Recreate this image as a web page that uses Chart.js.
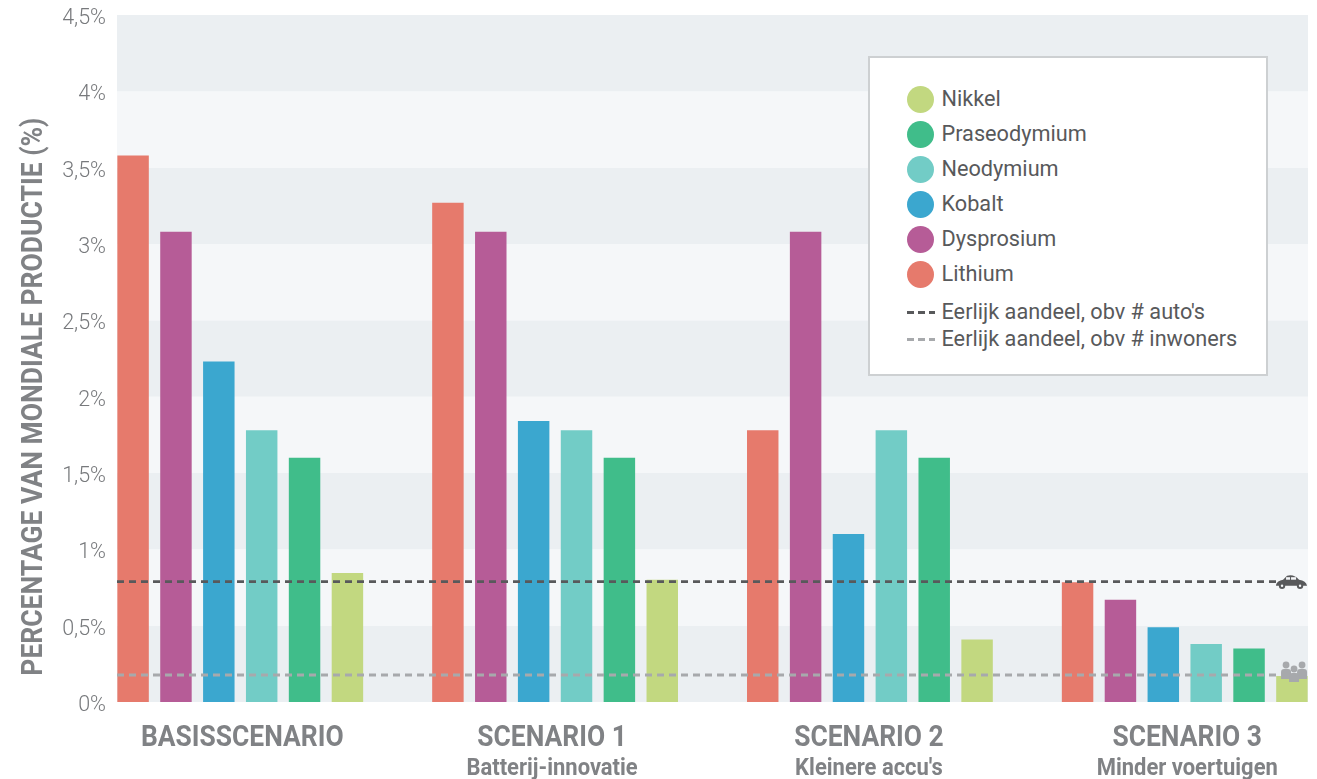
<!DOCTYPE html>
<html>
<head>
<meta charset="utf-8">
<title>Aandeel mondiale productie</title>
<script src="https://cdn.jsdelivr.net/npm/chart.js@4"></script>
<style>
  html, body { margin: 0; background: #fff; }
  #wrap { position: relative; width: 1317px; height: 779px; }
  #legend {
    position: absolute; left: 868px; top: 56px; width: 396px; height: 316px;
    background: #fff; border: 2px solid #cdd0d2;
    font: 21.7px Roboto, sans-serif; color: #58595b;
  }
  #legend .row { position: absolute; left: 71.5px; white-space: nowrap; line-height: 24px; }
  #legend .dot { position: absolute; left: -35px; top: -1.5px; width: 27px; height: 27px; border-radius: 50%; }
  #legend .dash { position: absolute; left: -35px; top: 11px; width: 28px; height: 2.5px; }
</style>
</head>
<body>
<div id="wrap">
  <canvas id="chart" width="1317" height="779"></canvas>
  <div id="legend"></div>
</div>
<script>
const scenarios = ['BASISSCENARIO', 'SCENARIO 1', 'SCENARIO 2', 'SCENARIO 3'];
const subtitles = ['', 'Batterij-innovatie', "Kleinere accu's", 'Minder voertuigen'];
const yTicks = [0, 0.5, 1, 1.5, 2, 2.5, 3, 3.5, 4, 4.5];
const yTitle = 'PERCENTAGE VAN MONDIALE PRODUCTIE (%)';

const lithium = [3.58, 3.27, 1.78, 0.785];
const dysprosium = [3.08, 3.08, 3.08, 0.67];
const kobalt = [2.23, 1.84, 1.1, 0.49];
const neodymium = [1.78, 1.78, 1.78, 0.38];
const praseodymium = [1.6, 1.6, 1.6, 0.35];
const nikkel = [0.845, 0.8, 0.41, 0.17];

const fairShareCars = 0.788;
const fairShareInhabitants = 0.177;

const GREY = '#808285';
const xMin = -0.3915, xMax = 3.3915, lineEnd = 3.29;

const toPoints = arr => arr.map((v, i) => ({ x: i, y: v }));
const bar = (label, values, color) => ({
  type: 'bar', label, data: toPoints(values), backgroundColor: color,
  categoryPercentage: 0.817, barPercentage: 0.734, order: 2
});
const line = (label, y, color) => ({
  type: 'line', label, data: [{ x: xMin, y }, { x: lineEnd, y }],
  borderColor: color, borderWidth: 2.8, borderDash: [7, 5], pointRadius: 0, order: 1
});

const barSets = [
  bar('Lithium', lithium, '#e67a6c'),
  bar('Dysprosium', dysprosium, '#b65c97'),
  bar('Kobalt', kobalt, '#3ba7cf'),
  bar('Neodymium', neodymium, '#72ccc6'),
  bar('Praseodymium', praseodymium, '#40bd8a'),
  bar('Nikkel', nikkel, '#c2d880')
];
const lineSets = [
  line("Eerlijk aandeel, obv # auto's", fairShareCars, '#58595b'),
  line('Eerlijk aandeel, obv # inwoners', fairShareInhabitants, '#a7a9ac')
];

// alternating horizontal bands behind the bars
const bandsPlugin = {
  id: 'bands',
  beforeDatasetsDraw(c) {
    const { ctx, chartArea: a, scales: { y } } = c;
    for (let i = 0; i < yTicks.length - 1; i++) {
      const top = y.getPixelForValue(yTicks[i + 1]);
      const bottom = y.getPixelForValue(yTicks[i]);
      ctx.fillStyle = i % 2 ? '#f5f7f9' : '#ebeff2';
      ctx.fillRect(a.left, top, a.right - a.left, bottom - top);
    }
  }
};

function drawCar(ctx, x, y) {
  ctx.fillStyle = '#58595b';
  ctx.beginPath();
  ctx.moveTo(x, y + 3);
  ctx.quadraticCurveTo(x + 1, y - 1, x + 7, y - 2);
  ctx.lineTo(x + 11, y - 6);
  ctx.quadraticCurveTo(x + 18, y - 8, x + 23, y - 2);
  ctx.quadraticCurveTo(x + 30, y - 1, x + 31, y + 4);
  ctx.lineTo(x, y + 4);
  ctx.closePath();
  ctx.fill();
  ctx.fillStyle = '#f5f7f9';
  ctx.fillRect(x + 10, y - 4.5, 4, 2.5);
  ctx.fillRect(x + 15, y - 4.5, 5, 2.5);
  [6, 24].forEach(dx => {
    ctx.fillStyle = '#58595b';
    ctx.beginPath(); ctx.arc(x + dx, y + 4, 3.2, 0, Math.PI * 2); ctx.fill();
    ctx.fillStyle = '#f5f7f9';
    ctx.beginPath(); ctx.arc(x + dx, y + 4, 1.2, 0, Math.PI * 2); ctx.fill();
  });
}

function drawPerson(ctx, x, y, h) {
  ctx.beginPath(); ctx.arc(x, y, 3.4, 0, Math.PI * 2); ctx.fill();
  ctx.beginPath();
  ctx.moveTo(x - 5, y + h);
  ctx.lineTo(x - 5, y + 7);
  ctx.quadraticCurveTo(x - 5, y + 4, x - 2, y + 4);
  ctx.lineTo(x + 2, y + 4);
  ctx.quadraticCurveTo(x + 5, y + 4, x + 5, y + 7);
  ctx.lineTo(x + 5, y + h);
  ctx.closePath();
  ctx.fill();
}

// car and people markers at the end of the fair-share lines
const iconsPlugin = {
  id: 'icons',
  afterDatasetsDraw(c) {
    const { ctx, scales: { x, y } } = c;
    const ex = x.getPixelForValue(lineEnd);
    ctx.save();
    drawCar(ctx, ex, y.getPixelForValue(fairShareCars));
    ctx.fillStyle = '#a7a9ac';
    const py = y.getPixelForValue(fairShareInhabitants);
    drawPerson(ctx, ex + 10, py - 10, 14);
    drawPerson(ctx, ex + 26, py - 10, 14);
    drawPerson(ctx, ex + 18, py - 6, 13);
    ctx.restore();
  }
};

// Roboto has no condensed cut here, so the bold axis texts are squeezed horizontally
function narrowText(ctx, text, x, y, size, squeeze, angle) {
  ctx.save();
  ctx.translate(x, y);
  if (angle) ctx.rotate(angle);
  ctx.scale(squeeze, 1);
  ctx.font = `bold ${size}px Roboto, sans-serif`;
  ctx.fillStyle = GREY;
  ctx.textAlign = 'center';
  ctx.textBaseline = 'middle';
  ctx.fillText(text, 0, 0);
  ctx.restore();
}

// small shifts of the scenario captions away from the group centres
const labelNudge = [2, -3, -1, 2.5];

const axisTextPlugin = {
  id: 'axisText',
  afterDraw(c) {
    const { ctx, scales: { x, y } } = c;
    scenarios.forEach((s, i) => {
      const px = x.getPixelForValue(i) + labelNudge[i];
      narrowText(ctx, s, px, 739, 29.5, 0.895);
      if (subtitles[i]) narrowText(ctx, subtitles[i], px, 769, 23, 0.955);
    });
    narrowText(ctx, yTitle, 35, y.getPixelForValue(2), 29, 0.914, -Math.PI / 2);
  }
};

const chart = new Chart(document.getElementById('chart'), {
  data: { datasets: [...lineSets, ...barSets] },
  options: {
    responsive: false,
    animation: false,
    layout: { padding: { top: 15, right: 9, left: 0, bottom: 0 } },
    plugins: { legend: { display: false }, tooltip: { enabled: false } },
    scales: {
      x: {
        type: 'linear', min: xMin, max: xMax, position: 'bottom', offset: false,
        grid: { display: false }, border: { display: false },
        ticks: { display: false },
        // one tick per scenario keeps the bar groups at full width
        afterBuildTicks: s => { s.ticks = scenarios.map((_, i) => ({ value: i })); },
        afterFit: s => { s.height = 77; s.paddingLeft = 0; s.paddingRight = 0; }
      },
      y: {
        min: 0, max: 4.5,
        grid: { display: false }, border: { display: false },
        afterBuildTicks: s => { s.ticks = yTicks.map(v => ({ value: v })); },
        afterFit: s => { s.width = 117; s.paddingTop = 0; s.paddingBottom = 0; },
        ticks: {
          callback: v => String(v).replace('.', ',') + '%', padding: 3, labelOffset: 3.5,
          color: '#77797c', font: { family: 'Roboto, sans-serif', size: 21.5, weight: '300' }
        }
      }
    }
  },
  plugins: [bandsPlugin, iconsPlugin, axisTextPlugin]
});

// legend box, top to bottom in reverse bar order
const legend = document.getElementById('legend');
const addRow = (label, top, marker, color) => {
  const row = document.createElement('div');
  row.className = 'row';
  row.style.top = top + 'px';
  row.textContent = label;
  const m = document.createElement('span');
  m.className = marker;
  if (marker === 'dot') m.style.background = color;
  else m.style.background = `repeating-linear-gradient(90deg, ${color} 0 7px, transparent 7px 11px)`;
  row.prepend(m);
  legend.appendChild(row);
};
[...barSets].reverse().forEach((d, i) => addRow(d.label, 29 + i * 35, 'dot', d.backgroundColor));
lineSets.forEach((d, i) => addRow(d.label, 242 + i * 27, 'dash', d.borderColor));
</script>
</body>
</html>
